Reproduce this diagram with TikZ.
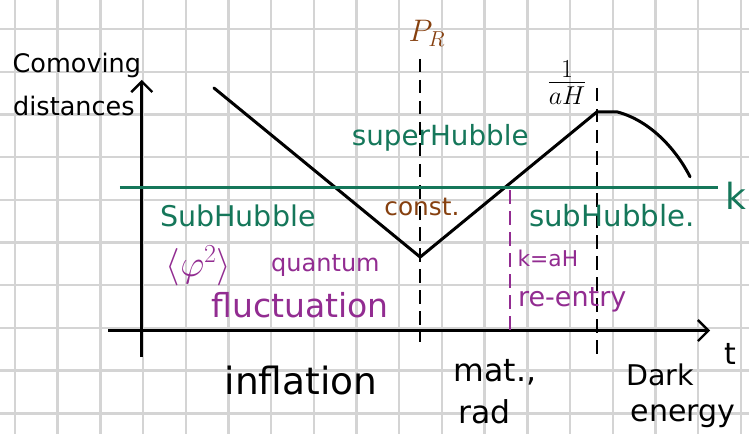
\documentclass[tikz,border=0pt]{standalone}
\usepackage{fontspec}
\setsansfont{DejaVu Sans}
\usetikzlibrary{arrows.meta}

\begin{document}
\begin{tikzpicture}[
    every node/.style={font=\sffamily},
]

% ---------------------------------------------------------------- colours
\definecolor{gridcolor}{HTML}{D4D4D4}     % squared paper
\definecolor{hubble}{HTML}{15775A}        % the horizon scale k and its regions
\definecolor{pivot}{HTML}{86400F}         % the pivot time and the constant mode
\definecolor{mode}{HTML}{922C91}          % fluctuations, re-entry

% ---------------------------------------------------------------- styles
\tikzset{
    hand/.style={font=\sffamily\fontsize{#1}{#1}\selectfont, inner sep=1pt},
    hand/.default=18,
    horizon/.style={line width=2pt, black, line cap=round, line join=round},
    axisline/.style={
        line width=2pt, black,
        -{Straight Barb[length=7pt, width=14pt, line width=1.6pt]},
    },
    epochline/.style={line width=1.7pt, black, dash pattern=on 9pt off 5pt},
    reentryline/.style={line width=1.7pt, mode, dash pattern=on 9pt off 5pt},
}

% ================================================================
% GEOMETRY  (1 unit = one square of the paper)
%   axes cross at (0, 0)
%   end of inflation   u = 6.49
%   dark energy starts u = 10.63
%   k line             v = 3.30
% ================================================================

\useasboundingbox (-3.35, -2.48) rectangle (14.19, 7.68);
\fill[white] (-3.35, -2.48) rectangle (14.19, 7.68);
\draw[gridcolor, line width=1.6pt] (-3.35, -2.48) grid (14.19, 7.68);

% ---------------------------------------------------------------- axes
\draw[axisline] (-0.82, -0.06) -- (13.28, -0.06);
\draw[axisline] (-0.03, -0.68) -- (-0.03, 5.81);

\node[hand=17] (comoving)  at (-1.55, 6.14) {Comoving};
\node[hand=17] (distances) at (-1.62, 5.20) {distances};
\node[hand=20] (taxis)     at (13.75, -0.62) {t};

% ---------------------------------------------------------------- epochs
\draw[epochline] (6.49, 6.30) -- (6.49, -0.33);
\draw[epochline] (10.63, 5.62) -- (10.63, -0.70);

\node[hand=21, text=pivot] (PR) at (6.65, 6.90) {$P_R$};

\node[hand=25] (inflation) at (3.70, -1.22) {inflation};
\node[hand=21] (matrad)    at (8.24, -1.03) {mat.,};
\node[hand=21] (rad)       at (7.99, -1.96) {rad};
\node[hand=19] (dark)      at (12.11, -1.10) {Dark};
\node[hand=20] (energy)    at (12.65, -2.06) {energy};

% ---------------------------------------------------------------- 1/aH
\draw[horizon] (1.66, 5.62) -- (6.49, 1.66) -- (10.63, 5.06)
    -- (11.10, 5.06) .. controls (11.90, 4.85) and (12.50, 4.15) .. (12.81, 3.54);

\node[hand=26] (aH) at (9.93, 5.74) {$\frac{1}{aH}$};

% ---------------------------------------------------------------- the mode k
\draw[hubble, line width=2pt] (-0.54, 3.30) -- (13.47, 3.30);
\node[hand=24, text=hubble, anchor=east] (k) at (14.17, 3.10) {k};

\node[hand=18.5, text=hubble] (super) at (6.96, 4.45) {superHubble};
\node[hand=19, text=hubble] (subL)  at (2.22, 2.62) {SubHubble};
\node[hand=19.5, text=hubble] (subR)  at (10.98, 2.62) {subHubble.};

\node[hand=16.5, text=pivot] (const) at (6.53, 2.83) {const.};

% ---------------------------------------------------------------- fluctuations
\node[hand=26, text=mode] (phi)     at (1.30, 1.45) {$\langle\varphi^{2}\rangle$};
\node[hand=16, text=mode] (quantum) at (4.27, 1.45) {quantum};
\node[hand=22, text=mode] (fluct)   at (3.68, 0.54) {fluctuation};

\draw[reentryline] (8.59, 3.23) -- (8.59, -0.12);
\node[hand=14.5, text=mode] (kaH)   at (9.48, 1.64) {k=aH};
\node[hand=18, text=mode] (reentry) at (10.05, 0.66) {re-entry};

\end{tikzpicture}
\end{document}
